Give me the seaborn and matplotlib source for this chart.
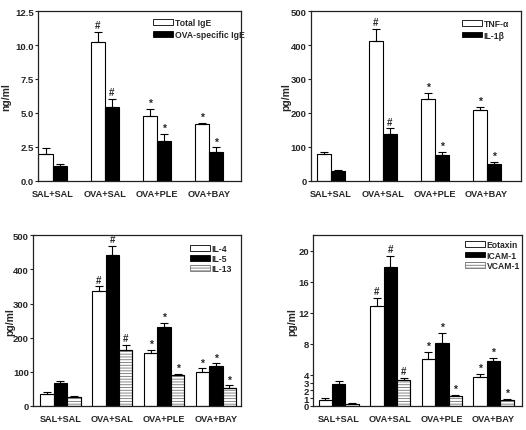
import numpy as np
import pandas as pd
import matplotlib
matplotlib.use("Agg")
import matplotlib.pyplot as plt
import seaborn as sns
from matplotlib.patches import Rectangle, Patch

# ---------------- data ----------------
groups = ["SAL+SAL", "OVA+SAL", "OVA+PLE", "OVA+BAY"]
marks = ["", "#", "*", "*"]

ige_labels = ["Total IgE", "OVA-specific IgE"]
ige_total = [1.97, 10.2, 4.8, 4.2]
ige_total_err = [0.43, 0.78, 0.5, 0.08]
ige_ova = [1.07, 5.47, 2.94, 2.14]
ige_ova_err = [0.19, 0.59, 0.51, 0.34]

cyt_labels = ["TNF-α", "IL-1β"]
tnf = [78, 413, 240, 210]
tnf_err = [7, 35, 19, 9]
il1b = [29, 137, 77, 50]
il1b_err = [3, 18, 8, 6]

th2_labels = ["IL-4", "IL-5", "IL-13"]
il4 = [34, 336, 154, 100]
il4_err = [7, 15, 11, 10]
il5 = [68, 441, 230, 117]
il5_err = [4, 28, 13, 8]
il13 = [26, 163, 91, 54]
il13_err = [4, 16, 4, 6]

adh_labels = ["Eotaxin", "ICAM-1", "VCAM-1"]
eotaxin = [0.81, 12.9, 6.0, 3.7]
eotaxin_err = [0.21, 1.05, 0.95, 0.44]
icam = [2.77, 17.9, 8.06, 5.76]
icam_err = [0.47, 1.46, 1.34, 0.44]
vcam = [0.26, 3.37, 1.32, 0.77]
vcam_err = [0.08, 0.25, 0.13, 0.13]

# ---------------- style ----------------
sns.set_style("ticks")
plt.rcParams["font.family"] = ["Liberation Sans", "DejaVu Sans"]
plt.rcParams["font.weight"] = "bold"
plt.rcParams["axes.labelweight"] = "bold"
plt.rcParams["hatch.linewidth"] = 0.6

fig = plt.figure(figsize=(5.26, 4.31), dpi=100)
fig.patch.set_facecolor("white")

HATCH = "------"
HATCH_EDGE = "0.45"


def panel(rect, labels, vals, errs, ylabel, ylabel_x, ylim, yticks, yticklabels,
          width, xlim, leg_anchor, leg_spacing):
    ax = fig.add_axes(rect)
    rows = []
    for lab, v in zip(labels, vals):
        for g, val in zip(groups, v):
            rows.append({"group": g, "series": lab, "value": val})
    df = pd.DataFrame(rows)
    colors = ["white", "black", "white"][: len(labels)]
    sns.barplot(data=df, x="group", y="value", hue="series", order=groups,
                hue_order=labels, palette=dict(zip(labels, colors)),
                edgecolor="black", linewidth=0.8, width=width,
                errorbar=None, legend=False, saturation=1, ax=ax)
    handles = []
    for i, (cont, err) in enumerate(zip(ax.containers, errs)):
        bars = list(cont)
        if i == 2:
            for b in bars:
                b.set_hatch(HATCH)
                b.set_edgecolor(HATCH_EDGE)
                ax.add_patch(Rectangle(b.get_xy(), b.get_width(), b.get_height(),
                                       fill=False, edgecolor="black", lw=0.8,
                                       zorder=b.get_zorder() + 0.1))
            handles.append(Patch(facecolor="white", edgecolor=HATCH_EDGE,
                                 hatch=HATCH, lw=0.6))
        else:
            handles.append(Patch(facecolor=colors[i], edgecolor="black", lw=0.6))
        xs = [b.get_x() + b.get_width() / 2 for b in bars]
        ys = [b.get_height() for b in bars]
        ax.errorbar(xs, ys, yerr=[np.zeros(len(err)), err], fmt="none",
                    ecolor="black", elinewidth=0.8, capsize=3, capthick=0.8,
                    zorder=1)
        for x, y, e, m in zip(xs, ys, err, marks):
            if m:
                ax.annotate(m, (x, y + e), xytext=(0, 1 if m == "#" else 0.5),
                            textcoords="offset points", ha="center",
                            va="bottom", fontsize=7 if m == "#" else 7.5,
                            fontweight="bold")
    ax.set_xlim(*xlim)
    ax.set_ylim(*ylim)
    ax.set_yticks(yticks)
    ax.set_yticklabels(yticklabels)
    ax.set_xlabel("")
    ax.set_ylabel(ylabel, fontsize=7.5, fontweight="bold")
    ax.yaxis.set_label_coords(ylabel_x, 0.5)
    for s in ax.spines.values():
        s.set_visible(True)
        s.set_linewidth(0.9)
        s.set_color("#222222")
    ax.tick_params(axis="x", length=0, pad=5.5, labelsize=6.6)
    ax.tick_params(axis="y", length=2, width=0.8, pad=1, labelsize=6.8)
    for t in ax.get_xticklabels() + ax.get_yticklabels():
        t.set_fontweight("bold")
    ax.legend(handles=handles, labels=labels, loc="upper left",
              bbox_to_anchor=leg_anchor, frameon=False, fontsize=6.2,
              handlelength=2.3, handleheight=0.65, handletextpad=0.25,
              labelspacing=leg_spacing, borderaxespad=0, borderpad=0)
    return ax


panel([0.0722, 0.578, 0.386, 0.394], ige_labels, [ige_total, ige_ova],
      [ige_total_err, ige_ova_err], "ng/ml", -0.133, (0, 12.5),
      [0, 2.5, 5, 7.5, 10, 12.5], ["0.0", "2.5", "5.0", "7.5", "10.0", "12.5"],
      0.54, (-0.28, 3.62), (0.567, 0.957), 0.3)

panel([0.591, 0.578, 0.399, 0.394], cyt_labels, [tnf, il1b],
      [tnf_err, il1b_err], "pg/ml", -0.095, (0, 500),
      [0, 100, 200, 300, 400, 500], ["0", "100", "200", "300", "400", "500"],
      0.54, (-0.39, 3.66), (0.719, 0.952), 0.28)

panel([0.0627, 0.0557, 0.395, 0.3963], th2_labels, [il4, il5, il13],
      [il4_err, il5_err, il13_err], "pg/ml", -0.084, (0, 500),
      [0, 100, 200, 300, 400, 500], ["0", "100", "200", "300", "400", "500"],
      0.78, (-0.53, 3.48), (0.755, 0.95), 0.15)

panel([0.595, 0.0557, 0.397, 0.3963], adh_labels, [eotaxin, icam, vcam],
      [eotaxin_err, icam_err, vcam_err], "pg/ml", -0.074, (0, 22),
      [0, 1, 2, 3, 4, 8, 12, 16, 20], ["0", "1", "2", "3", "4", "8", "12", "16", "20"],
      0.78, (-0.5, 3.55), (0.727, 0.97), 0.15)

fig.savefig("out.png", dpi=100, facecolor="white")
